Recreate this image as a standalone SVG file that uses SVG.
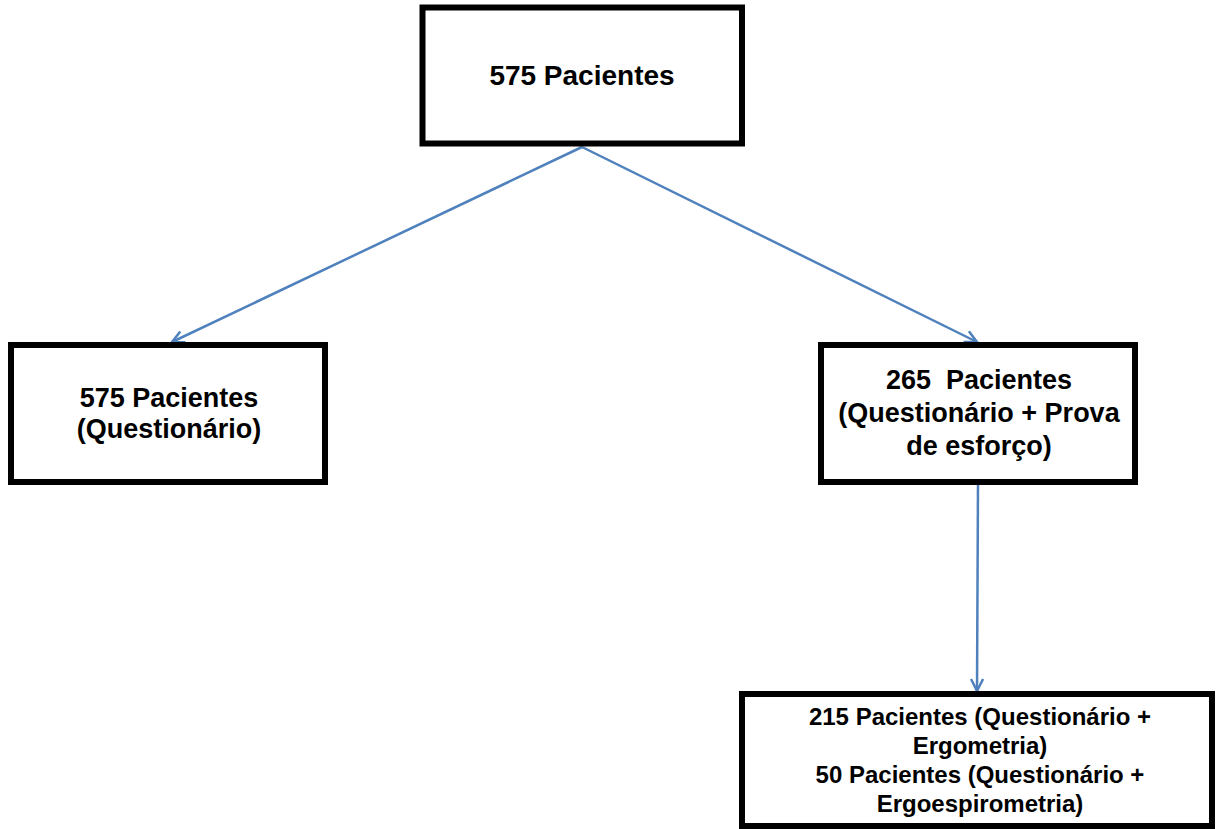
<svg xmlns="http://www.w3.org/2000/svg" width="1219" height="829" viewBox="0 0 1219 829">
  <style>
    .box { fill: #ffffff; stroke: #000000; stroke-width: 6; }
    .t { font-family: "Liberation Sans", Arial, sans-serif; font-weight: bold; fill: #000000; text-anchor: middle; }
    .conn { stroke: #4F81BD; stroke-width: 2.5; fill: none; }
  </style>
  <defs>
    <marker id="arr" markerUnits="userSpaceOnUse" markerWidth="30" markerHeight="30" refX="0" refY="0" viewBox="-15 -15 30 30" orient="auto" overflow="visible">
      <path d="M-12,-6 L0,0 L-12,6" fill="none" stroke="#4F81BD" stroke-width="2.5" stroke-linejoin="miter"/>
    </marker>
  </defs>
  <rect width="1219" height="829" fill="#ffffff"/>
  <g id="connectors">
    <line class="conn" x1="582" y1="147" x2="172" y2="342" marker-end="url(#arr)"/>
    <line class="conn" x1="582" y1="147" x2="977" y2="342" marker-end="url(#arr)"/>
    <line class="conn" x1="978" y1="484" x2="977" y2="691" marker-end="url(#arr)"/>
  </g>
  <g id="node-top">
    <rect class="box" x="422.5" y="7.5" width="319.5" height="136"/>
    <text class="t" x="582" y="85" font-size="28">575 Pacientes</text>
  </g>
  <g id="node-left">
    <rect class="box" x="11" y="345" width="314" height="137"/>
    <text class="t" x="169" y="407" font-size="27">575 Pacientes</text>
    <text class="t" x="169" y="438" font-size="27">(Questionário)</text>
  </g>
  <g id="node-right">
    <rect class="box" x="821" y="345" width="314" height="137"/>
    <text class="t" x="979" y="389" font-size="27" xml:space="preserve">265  Pacientes</text>
    <text class="t" x="979" y="422" font-size="27">(Questionário + Prova</text>
    <text class="t" x="979" y="455" font-size="27">de esforço)</text>
  </g>
  <g id="node-bottom">
    <rect class="box" x="742" y="694" width="470" height="132"/>
    <text class="t" x="980" y="725" font-size="24">215 Pacientes (Questionário +</text>
    <text class="t" x="980" y="754" font-size="24">Ergometria)</text>
    <text class="t" x="980" y="783" font-size="24">50 Pacientes (Questionário +</text>
    <text class="t" x="980" y="812" font-size="24">Ergoespirometria)</text>
  </g>
</svg>
